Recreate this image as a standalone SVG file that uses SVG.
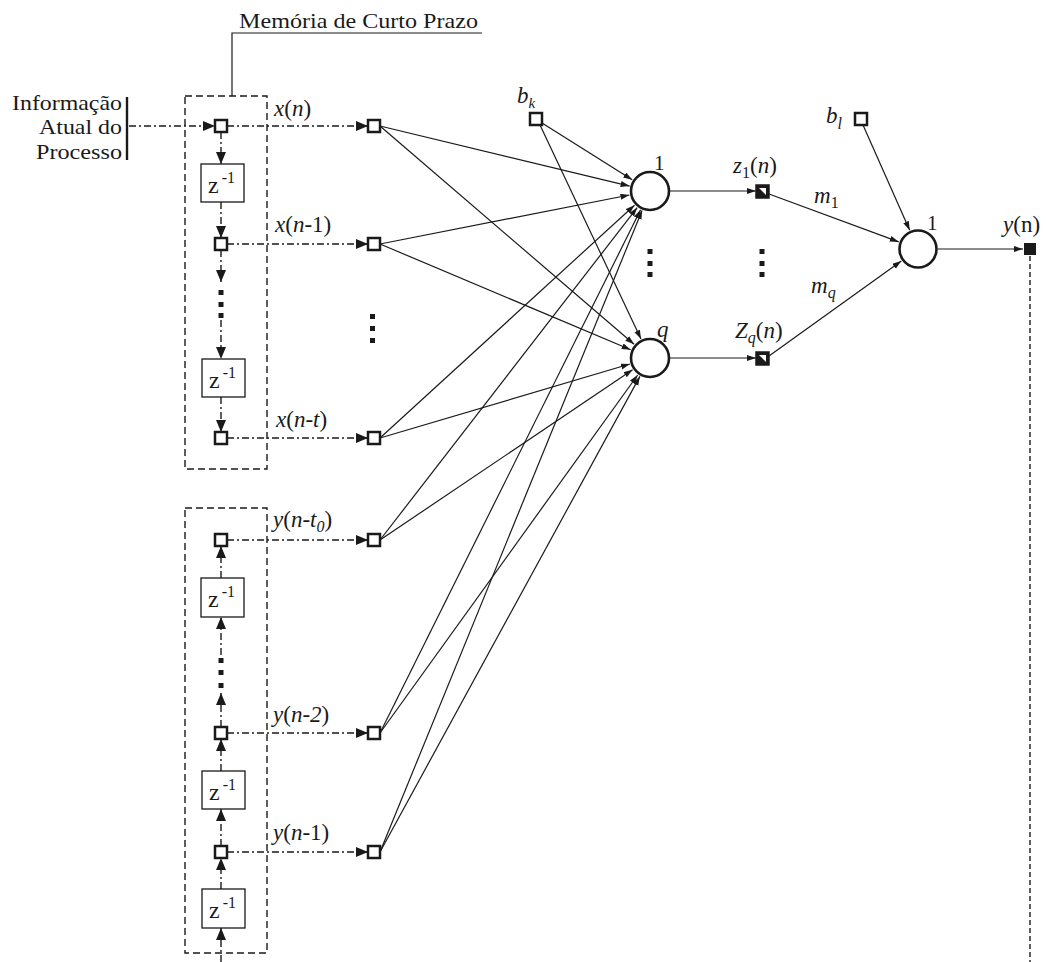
<svg xmlns="http://www.w3.org/2000/svg" width="1046" height="962" viewBox="0 0 1046 962">
<style>
text{font-family:"Liberation Serif","Times New Roman",serif;fill:#1a1a1a}
.lab{font-size:23px}
.it{font-style:italic}
.sq{fill:#fff;stroke:#1a1a1a;stroke-width:2.5}
.dot{fill:#1a1a1a}
.dd{fill:none;stroke:#1a1a1a;stroke-width:1.4;stroke-dasharray:7 3 2 3}
.dbox{fill:none;stroke:#1a1a1a;stroke-width:1.4;stroke-dasharray:7 4}
.zb{fill:#fff;stroke:#1a1a1a;stroke-width:1.3}
.zt{font-size:24px}
.zs{font-size:16px}
.ln{fill:none;stroke:#1a1a1a;stroke-width:1.2}
.neu{fill:#fff;stroke:#1a1a1a;stroke-width:2.6}
</style>
<defs>
<marker id="ab" markerUnits="userSpaceOnUse" markerWidth="12" markerHeight="10" refX="12" refY="5" orient="auto"><path d="M0,0 L12,5 L0,10 Z" fill="#1a1a1a"/></marker>
<marker id="as" markerUnits="userSpaceOnUse" markerWidth="9" markerHeight="7" refX="9" refY="3" orient="auto"><path d="M0,0 L9,3 L0,6 Z" fill="#1a1a1a"/></marker>
</defs>
<rect width="1046" height="962" fill="#fff"/>

<g id="title">
<polyline class="ln" points="232,96 232,33 482,33"/>
<text x="239" y="28" font-size="21" textLength="239" lengthAdjust="spacingAndGlyphs">Memória de Curto Prazo</text>
</g>

<g id="info">
<text x="12" y="110" font-size="21" textLength="110" lengthAdjust="spacingAndGlyphs">Informação</text>
<text x="39" y="134" font-size="21" textLength="83" lengthAdjust="spacingAndGlyphs">Atual do</text>
<text x="36" y="159" font-size="21" textLength="86" lengthAdjust="spacingAndGlyphs">Processo</text>
<line x1="127" y1="97" x2="127" y2="160" stroke="#1a1a1a" stroke-width="2.4"/>
</g>

<g id="connectors">
<line class="dd" x1="129" y1="126" x2="215" y2="126" marker-end="url(#ab)"/>
<line class="dd" x1="227" y1="126" x2="368" y2="126" marker-end="url(#ab)"/>
<line class="dd" x1="227" y1="244" x2="368" y2="244" marker-end="url(#ab)"/>
<line class="dd" x1="227" y1="438" x2="368" y2="438" marker-end="url(#ab)"/>
<line class="dd" x1="227" y1="540" x2="368" y2="540" marker-end="url(#ab)"/>
<line class="dd" x1="227" y1="733" x2="368" y2="733" marker-end="url(#ab)"/>
<line class="dd" x1="227" y1="852" x2="368" y2="852" marker-end="url(#ab)"/>
<line class="dd" x1="221" y1="132" x2="221" y2="164" marker-end="url(#ab)"/>
<line class="dd" x1="221" y1="202" x2="221" y2="238" marker-end="url(#ab)"/>
<line class="dd" x1="221" y1="250" x2="221" y2="282" marker-end="url(#ab)"/>
<line class="dd" x1="221" y1="320" x2="221" y2="359" marker-end="url(#ab)"/>
<line class="dd" x1="221" y1="397" x2="221" y2="432" marker-end="url(#ab)"/>
<line class="dd" x1="221" y1="962" x2="221" y2="928" marker-end="url(#ab)"/>
<line class="dd" x1="221" y1="889" x2="221" y2="858" marker-end="url(#ab)"/>
<line class="dd" x1="221" y1="846" x2="221" y2="809" marker-end="url(#ab)"/>
<line class="dd" x1="221" y1="771" x2="221" y2="739" marker-end="url(#ab)"/>
<line class="dd" x1="221" y1="727" x2="221" y2="693" marker-end="url(#ab)"/>
<line class="dd" x1="221" y1="655" x2="221" y2="617" marker-end="url(#ab)"/>
<line class="dd" x1="221" y1="578" x2="221" y2="546" marker-end="url(#ab)"/>
<line class="ln" x1="380" y1="126" x2="629.6" y2="186.1" marker-end="url(#as)"/>
<line class="ln" x1="380" y1="244" x2="629.4" y2="195.0" marker-end="url(#as)"/>
<line class="ln" x1="380" y1="438" x2="634.5" y2="205.2" marker-end="url(#as)"/>
<line class="ln" x1="380" y1="540" x2="637.2" y2="207.6" marker-end="url(#as)"/>
<line class="ln" x1="380" y1="733" x2="640.6" y2="209.8" marker-end="url(#as)"/>
<line class="ln" x1="380" y1="852" x2="642.1" y2="210.4" marker-end="url(#as)"/>
<line class="ln" x1="542" y1="123" x2="632.2" y2="179.8" marker-end="url(#as)"/>
<line class="ln" x1="380" y1="126" x2="634.1" y2="344.3" marker-end="url(#as)"/>
<line class="ln" x1="380" y1="244" x2="630.7" y2="349.8" marker-end="url(#as)"/>
<line class="ln" x1="380" y1="438" x2="629.9" y2="364.0" marker-end="url(#as)"/>
<line class="ln" x1="380" y1="540" x2="632.6" y2="369.7" marker-end="url(#as)"/>
<line class="ln" x1="380" y1="733" x2="637.7" y2="375.0" marker-end="url(#as)"/>
<line class="ln" x1="380" y1="852" x2="639.9" y2="376.4" marker-end="url(#as)"/>
<line class="ln" x1="540" y1="125" x2="641.0" y2="339.0" marker-end="url(#as)"/>
<line class="ln" x1="669" y1="191" x2="756" y2="191" marker-end="url(#as)"/>
<line class="ln" x1="669" y1="358" x2="756" y2="358" marker-end="url(#as)"/>
<line class="ln" x1="769" y1="194" x2="898.8" y2="241.9" marker-end="url(#as)"/>
<line class="ln" x1="769" y1="356" x2="901.3" y2="261.0" marker-end="url(#as)"/>
<line class="ln" x1="863" y1="125" x2="909.7" y2="230.3" marker-end="url(#as)"/>
<line class="ln" x1="938" y1="249" x2="1023" y2="249" marker-end="url(#as)"/>
<line x1="1030" y1="256" x2="1030" y2="962" stroke="#1a1a1a" stroke-width="1.4" stroke-dasharray="5 3"/>
</g>

<g id="memory-x">
<rect class="dbox" x="185" y="96" width="82" height="373"/>
<rect class="sq" x="215" y="120" width="12" height="12"/>
<rect class="zb" x="201" y="164" width="43" height="38"/>
<text class="zt" x="208" y="193">z<tspan class="zs" dx="3" dy="-10">-1</tspan></text>
<rect class="sq" x="215" y="238" width="12" height="12"/>
<rect class="dot" x="218.5" y="290" width="5" height="5"/>
<rect class="dot" x="218.5" y="302" width="5" height="5"/>
<rect class="dot" x="218.5" y="313" width="5" height="5"/>
<rect class="zb" x="202" y="359" width="43" height="38"/>
<text class="zt" x="209" y="388">z<tspan class="zs" dx="3" dy="-10">-1</tspan></text>
<rect class="sq" x="215" y="432" width="12" height="12"/>
</g>

<g id="memory-y">
<rect class="dbox" x="185" y="508" width="82" height="445"/>
<rect class="sq" x="215" y="534" width="12" height="12"/>
<rect class="zb" x="201" y="578" width="43" height="39"/>
<text class="zt" x="208" y="607">z<tspan class="zs" dx="3" dy="-10">-1</tspan></text>
<rect class="dot" x="218.5" y="658" width="5" height="5"/>
<rect class="dot" x="218.5" y="670" width="5" height="5"/>
<rect class="dot" x="218.5" y="683" width="5" height="5"/>
<rect class="sq" x="215" y="727" width="12" height="12"/>
<rect class="zb" x="202" y="771" width="43" height="38"/>
<text class="zt" x="209" y="800">z<tspan class="zs" dx="3" dy="-10">-1</tspan></text>
<rect class="sq" x="215" y="846" width="12" height="12"/>
<rect class="zb" x="202" y="889" width="43" height="39"/>
<text class="zt" x="209" y="918">z<tspan class="zs" dx="3" dy="-10">-1</tspan></text>
</g>

<g id="inputs">
<rect class="sq" x="368" y="120" width="12" height="12"/>
<rect class="sq" x="368" y="238" width="12" height="12"/>
<rect class="sq" x="368" y="432" width="12" height="12"/>
<rect class="sq" x="368" y="534" width="12" height="12"/>
<rect class="sq" x="368" y="727" width="12" height="12"/>
<rect class="sq" x="368" y="846" width="12" height="12"/>
<rect class="dot" x="370" y="314" width="5" height="5"/>
<rect class="dot" x="370" y="326" width="5" height="5"/>
<rect class="dot" x="370" y="338" width="5" height="5"/>
<text class="lab" x="274" y="116"><tspan class="it">x</tspan>(<tspan class="it">n</tspan>)</text>
<text class="lab" x="275" y="232"><tspan class="it">x</tspan>(<tspan class="it">n</tspan>-1)</text>
<text class="lab" x="276" y="427"><tspan class="it">x</tspan>(<tspan class="it">n-t</tspan>)</text>
<text class="lab" x="273" y="527"><tspan class="it">y</tspan>(<tspan class="it">n-t</tspan><tspan class="it" font-size="16" dy="5">0</tspan><tspan dy="-5">)</tspan></text>
<text class="lab" x="273" y="722"><tspan class="it">y</tspan>(<tspan class="it">n-2</tspan>)</text>
<text class="lab" x="273" y="840"><tspan class="it">y</tspan>(<tspan class="it">n</tspan>-1)</text>
</g>

<g id="bias-k">
<rect class="sq" x="530" y="113" width="12" height="12"/>
<text class="lab it" x="517" y="103">b<tspan font-size="15" dy="5">k</tspan></text>
</g>

<g id="hidden-1">
<circle class="neu" cx="650" cy="191" r="19"/>
<text x="654" y="170" font-size="21">1</text>
</g>
<g id="hidden-q">
<circle class="neu" cx="650" cy="358" r="19"/>
<text class="it" x="657" y="337" font-size="23">q</text>
</g>
<g id="hidden-dots">
<rect class="dot" x="647.5" y="249" width="5" height="5"/>
<rect class="dot" x="647.5" y="261" width="5" height="5"/>
<rect class="dot" x="647.5" y="272" width="5" height="5"/>
<rect class="dot" x="759.5" y="249" width="5" height="5"/>
<rect class="dot" x="759.5" y="261" width="5" height="5"/>
<rect class="dot" x="759.5" y="272" width="5" height="5"/>
</g>

<g id="z1">
<rect x="756" y="185" width="13" height="13" fill="#1a1a1a" stroke="#1a1a1a" stroke-width="1.5"/>
<polygon points="759,188 766,188 766,195" fill="#fff"/>
<text class="lab" x="733" y="173"><tspan class="it">z</tspan><tspan font-size="16" dy="5">1</tspan><tspan dy="-5">(</tspan><tspan class="it">n</tspan>)</text>
</g>
<g id="zq">
<rect x="756" y="352" width="13" height="13" fill="#1a1a1a" stroke="#1a1a1a" stroke-width="1.5"/>
<polygon points="759,355 766,355 766,362" fill="#fff"/>
<text class="lab" x="735" y="338"><tspan class="it">Z</tspan><tspan class="it" font-size="16" dy="5">q</tspan><tspan dy="-5">(</tspan><tspan class="it">n</tspan>)</text>
</g>

<g id="weights">
<text class="lab" x="814" y="203"><tspan class="it">m</tspan><tspan font-size="16" dy="5">1</tspan></text>
<text class="lab" x="811" y="293"><tspan class="it">m</tspan><tspan class="it" font-size="16" dy="5">q</tspan></text>
</g>

<g id="bias-l">
<rect class="sq" x="855" y="113" width="12" height="12"/>
<text class="lab it" x="826" y="123">b<tspan font-size="16" dy="6">l</tspan></text>
</g>

<g id="output">
<circle class="neu" cx="918" cy="249" r="18.5"/>
<text x="927" y="230" font-size="21">1</text>
</g>

<g id="y-out">
<rect x="1024" y="243" width="12" height="12" fill="#1a1a1a"/>
<text class="lab" x="1003" y="232"><tspan class="it">y</tspan>(n)</text>
</g>
</svg>
